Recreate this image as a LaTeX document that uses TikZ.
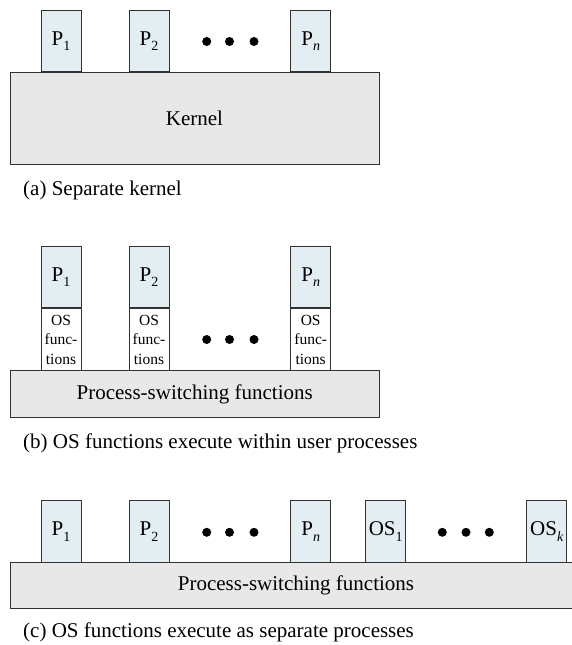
\documentclass[tikz,border=0pt]{standalone}
\usepackage{fontspec}
\setmainfont{Liberation Serif}
\usetikzlibrary{positioning}
\definecolor{procblue}{RGB}{226,238,241}
\definecolor{basegray}{RGB}{232,232,232}
\definecolor{edgegray}{RGB}{50,50,50}
\newcommand{\biglbl}{\fontsize{21}{24}\selectfont}
\newcommand{\smalllbl}{\fontsize{15.5}{19.5}\selectfont}
\newcommand{\sub}[1]{\raisebox{-0.55ex}{\fontsize{14}{14}\selectfont #1}}

\begin{document}
\begin{tikzpicture}[x=1pt, y=-1pt,
  proc/.style={rectangle, draw=edgegray, line width=0.9pt, fill=procblue, minimum width=40pt, minimum height=61.5pt, inner sep=0pt, font=\biglbl},
  osfun/.style={proc, fill=white, align=center, font=\smalllbl},
  base/.style={rectangle, draw=edgegray, line width=0.9pt, fill=basegray, inner sep=0pt, font=\biglbl},
  dot/.style={circle, fill=black, minimum size=9pt, inner sep=0pt},
  caption/.style={anchor=base west, inner sep=0pt, font=\biglbl},
]
  \useasboundingbox (0,0) rectangle (572,645);

  % (a) separate kernel
  \node[base, minimum width=369pt, minimum height=92pt] (kernel) at (194.5,118) {Kernel};
  \node[proc, anchor=south] (p1a) at (61,72) {P\sub{1}};
  \node[proc, anchor=south] (p2a) at (149,72) {P\sub{2}};
  \node[proc, anchor=south] (pna) at (310.7,72) {P\sub{\itshape n}};
  \node[dot] (da1) at (206.7,41.5) {};
  \node[dot] (da2) at (229.5,41.5) {};
  \node[dot] (da3) at (254,41.5) {};
  \node[caption] (capa) at (23,195) {(a) Separate kernel};

  % (b) OS functions inside user processes
  \node[base, minimum width=369.3pt, minimum height=46.3pt] (switchb) at (194.7,393.9) {Process-switching functions};
  \node[osfun, anchor=south] (osf1) at (61,370.7) {OS\\func-\\tions};
  \node[osfun, anchor=south] (osf2) at (149,370.7) {OS\\func-\\tions};
  \node[osfun, anchor=south] (osfn) at (310.7,370.7) {OS\\func-\\tions};
  \node[proc, above=0pt of osf1] (p1b) {P\sub{1}};
  \node[proc, above=0pt of osf2] (p2b) {P\sub{2}};
  \node[proc, above=0pt of osfn] (pnb) {P\sub{\itshape n}};
  \node[dot] (db1) at (206.7,339.5) {};
  \node[dot] (db2) at (229.5,339.5) {};
  \node[dot] (db3) at (254,339.5) {};
  \node[caption] (capb) at (23,448) {(b) OS functions execute within user processes};

  % (c) OS functions as separate processes
  \node[base, minimum width=572pt, minimum height=46pt] (switchc) at (296,585.7) {Process-switching functions};
  \node[proc, anchor=south] (p1c) at (61,562.7) {P\sub{1}};
  \node[proc, anchor=south] (p2c) at (149,562.7) {P\sub{2}};
  \node[proc, anchor=south] (pnc) at (310.7,562.7) {P\sub{\itshape n}};
  \node[proc, anchor=south] (os1) at (385.7,562.7) {OS\sub{1}};
  \node[proc, anchor=south] (osk) at (546.7,562.7) {OS\sub{\itshape k}};
  \node[dot] (dc1) at (206.7,532.3) {};
  \node[dot] (dc2) at (229.5,532.3) {};
  \node[dot] (dc3) at (254,532.3) {};
  \node[dot] (dc4) at (442.3,532.3) {};
  \node[dot] (dc5) at (466,532.3) {};
  \node[dot] (dc6) at (489.3,532.3) {};
  \node[caption] (capc) at (23,637) {(c) OS functions execute as separate processes};
\end{tikzpicture}
\end{document}
